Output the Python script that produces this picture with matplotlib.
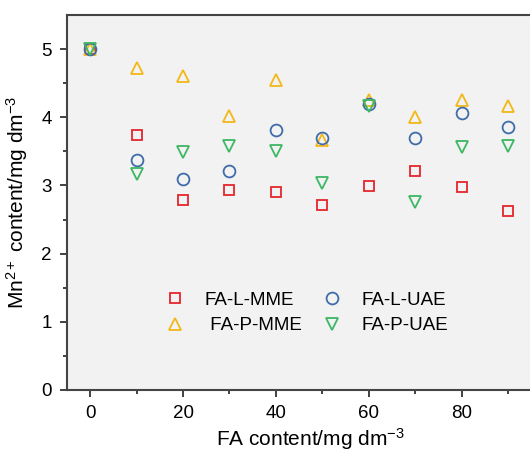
import matplotlib.pyplot as plt

plt.rcParams['font.family'] = ['Liberation Sans', 'DejaVu Sans']
plt.rcParams['mathtext.fontset'] = 'custom'
plt.rcParams['mathtext.rm'] = 'Liberation Sans'
plt.rcParams['mathtext.it'] = 'Liberation Sans'

# FA content (mg/dm3)
fa = [0, 10, 20, 30, 40, 50, 60, 70, 80, 90]

l_mme = [5.0, 3.74, 2.79, 2.93, 2.90, 2.72, 2.99, 3.21, 2.98, 2.63]
l_uae = [5.0, 3.37, 3.09, 3.21, 3.82, 3.69, 4.19, 3.69, 4.06, 3.86]
p_mme = [5.0, 4.72, 4.60, 4.02, 4.54, 3.66, 4.26, 4.00, 4.26, 4.16]
p_uae = [5.0, 3.17, 3.49, 3.58, 3.51, 3.04, 4.16, 2.76, 3.57, 3.58]

fig = plt.figure(figsize=(5.3, 4.54), dpi=100)
ax = fig.add_axes([0.126, 0.141, 0.921, 0.826])
ax.set_facecolor('#f2f2f2')

styl = dict(linestyle='none', markerfacecolor='none', markeredgewidth=1.3)
ax.plot(fa, l_mme, marker='s', color='#e3262b', label='FA-L-MME', markersize=7.5, **styl)
ax.plot(fa, p_mme, marker='^', color='#f2b817', label=' FA-P-MME', markersize=9, **styl)
ax.plot(fa, l_uae, marker='o', color='#3f6ca8', label='FA-L-UAE', markersize=8.5, **styl)
ax.plot(fa, p_uae, marker='v', color='#3cb764', label='FA-P-UAE', markersize=9, **styl)

ax.set_xlim(-5, 100)
ax.set_ylim(0, 5.5)
ax.set_xticks([0, 20, 40, 60, 80])
ax.set_xticks([10, 30, 50, 70, 90], minor=True)
ax.set_yticks([0, 1, 2, 3, 4, 5])
ax.set_yticks([0.5, 1.5, 2.5, 3.5, 4.5], minor=True)
ax.tick_params(which='both', direction='out', colors='#333333', labelcolor='black',
               labelsize=13.5, width=1.3)
ax.tick_params(which='major', length=5, pad=6)
ax.tick_params(which='minor', length=3)

for s in ['top', 'left', 'bottom']:
    ax.spines[s].set_color('#444444')
    ax.spines[s].set_linewidth(1.5)
ax.spines['right'].set_visible(False)

ax.set_xlabel('FA content/mg dm$^{-3}$', fontsize=15, labelpad=3)
ax.set_ylabel('Mn$^{2+}$ content/mg dm$^{-3}$', fontsize=15, labelpad=8)

ax.legend(ncol=2, frameon=False, fontsize=13.5, loc='center', bbox_to_anchor=(0.49, 0.205),
          handletextpad=1.0, columnspacing=1.0, handlelength=1.2, labelspacing=0.45)

fig.savefig('out.png', dpi=100)
